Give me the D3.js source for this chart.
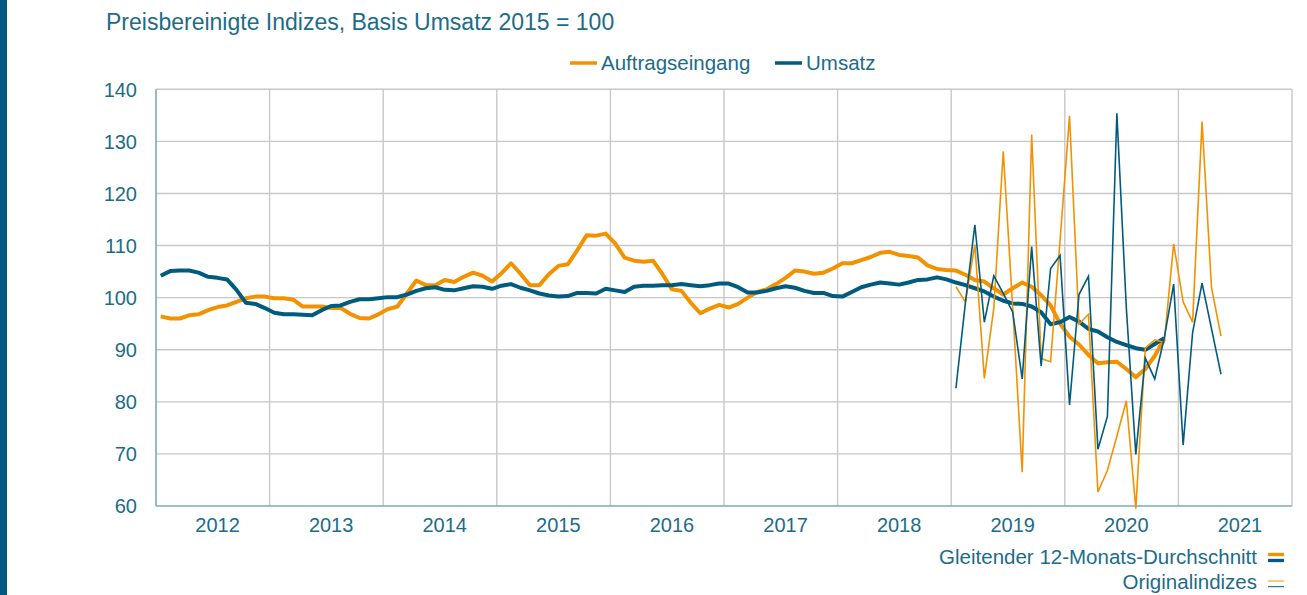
<!DOCTYPE html>
<html>
<head>
<meta charset="utf-8">
<script src="https://cdn.jsdelivr.net/npm/d3@7"></script>
<style>
  body { margin: 0; background: #fff; }
  text { font-family: "Liberation Sans", Arial, sans-serif; fill: #1c6c88; }
</style>
</head>
<body>
<svg id="chart" width="1307" height="595"></svg>
<script>
// x categories: one per month, Jan 2012 .. Dec 2021
const years = [2012, 2013, 2014, 2015, 2016, 2017, 2018, 2019, 2020, 2021];
const yTicks = [60, 70, 80, 90, 100, 110, 120, 130, 140];

// gleitender 12-Monats-Durchschnitt, ab Jan 2012
const auftragMA = [
  96.4, 96.0, 96.0, 96.6, 96.8, 97.6, 98.2, 98.5, 99.2, 99.9, 100.2, 100.2,
  99.9, 99.9, 99.6, 98.3, 98.3, 98.3, 98.0, 98.0, 96.9, 96.1, 96.0, 96.8,
  97.8, 98.3, 100.8, 103.3, 102.4, 102.4, 103.4, 103.0, 104.0, 104.8, 104.2, 103.1,
  104.7, 106.6, 104.6, 102.4, 102.4, 104.5, 106.1, 106.4, 109.1, 112.0, 111.9, 112.3,
  110.4, 107.7, 107.1, 106.9, 107.1, 104.5, 101.6, 101.3, 99.0, 97.0, 97.9, 98.6,
  98.1, 98.8, 100.0, 101.1, 101.6, 102.6, 103.8, 105.2, 105.0, 104.6, 104.8, 105.6,
  106.6, 106.6, 107.2, 107.8, 108.6, 108.8, 108.2, 108.0, 107.7, 106.2, 105.5, 105.3,
  105.2, 104.4, 103.4, 103.1, 101.8, 100.6, 101.8, 102.9, 102.1, 100.5, 98.5, 95.0,
  92.5, 91.0, 89.0, 87.4, 87.6, 87.7, 86.3, 84.7, 86.3, 88.8, 92.1
];
const umsatzMA = [
  104.2, 105.1, 105.2, 105.2, 104.8, 104.0, 103.8, 103.5, 101.5, 99.0, 98.8, 98.0,
  97.1, 96.8, 96.8, 96.7, 96.6, 97.6, 98.4, 98.5, 99.2, 99.7, 99.7, 99.9,
  100.1, 100.1, 100.6, 101.3, 101.8, 102.0, 101.5, 101.4, 101.8, 102.2, 102.1, 101.7,
  102.3, 102.6, 101.9, 101.4, 100.8, 100.4, 100.2, 100.3, 100.9, 100.9, 100.8, 101.7,
  101.4, 101.1, 102.1, 102.3, 102.3, 102.4, 102.4, 102.6, 102.4, 102.2, 102.4, 102.7,
  102.7, 102.0, 101.0, 101.0, 101.3, 101.8, 102.2, 101.9, 101.3, 100.9, 100.9, 100.3,
  100.2, 101.1, 102.0, 102.5, 102.9, 102.7, 102.5, 102.9, 103.4, 103.5, 103.9, 103.5,
  102.9, 102.4, 101.8, 101.2, 100.2, 99.4, 98.9, 98.8, 98.3, 97.2, 94.9, 95.3,
  96.3, 95.4, 94.0, 93.5, 92.4, 91.5, 90.9, 90.3, 90.0, 91.1, 92.2
];

// Originalindizes, ab Jan 2019
const origStart = '2019-01';
const auftragOrig = [
  102.1, 99.2, 110.2, 84.5, 98.0, 128.1, 98.0, 66.5, 131.3, 88.3, 87.7, 111.0,
  134.9, 94.9, 96.8, 62.7, 66.8, 73.4, 80.2, 59.5, 90.3, 91.9, 91.4, 110.3,
  99.2, 95.3, 133.8, 101.9, 92.6
];
const umsatzOrig = [
  82.6, 99.0, 114.0, 95.3, 104.2, 100.8, 97.2, 84.4, 109.8, 86.9, 105.6, 108.1,
  79.4, 100.6, 104.1, 70.9, 77.2, 135.4, 98.0, 69.9, 88.4, 84.4, 92.2, 102.6,
  71.7, 93.3, 102.8, 94.0, 85.3
];

(function() {
const svg = d3.select('svg#chart');
const orange = '#f39200';
const blue = '#005b7f';
const grid = '#c8c8c8';
const axisCol = '#7aaabb';

const months = [];
years.forEach(y => d3.range(1, 13).forEach(m => months.push(y + '-' + String(m).padStart(2, '0'))));

const x = d3.scaleBand().domain(months).range([156, 1292]).padding(0);
const y = d3.scaleLinear().domain([60, 140]).range([506, 89.3]);
const cx = m => x(m) + x.bandwidth() / 2;

// dark side bar
svg.append('rect')
  .attr('x', 0).attr('y', 0)
  .attr('width', 7).attr('height', 595)
  .attr('fill', '#005a80');

svg.append('text')
  .attr('x', 106).attr('y', 30)
  .style('font-size', '23px')
  .text('Preisbereinigte Indizes, Basis Umsatz 2015 = 100');

// horizontal gridlines
svg.append('g').selectAll('line')
  .data(yTicks.filter(d => d > 60))
  .join('line')
  .attr('x1', 156).attr('x2', 1292)
  .attr('y1', d => y(d)).attr('y2', d => y(d))
  .attr('stroke', grid).attr('stroke-width', 1.4);

// vertical gridlines at year boundaries
svg.append('g').selectAll('line')
  .data(years.slice(1).map(d => d + '-01').concat(['end']))
  .join('line')
  .attr('x1', d => d === 'end' ? 1292 : x(d))
  .attr('x2', d => d === 'end' ? 1292 : x(d))
  .attr('y1', y(140)).attr('y2', y(60))
  .attr('stroke', grid).attr('stroke-width', 1.4);

// axes lines
svg.append('line')
  .attr('x1', 156).attr('x2', 156)
  .attr('y1', y(140)).attr('y2', y(60))
  .attr('stroke', axisCol).attr('stroke-width', 1.6);
svg.append('line')
  .attr('x1', 156).attr('x2', 1292)
  .attr('y1', y(60)).attr('y2', y(60))
  .attr('stroke', axisCol).attr('stroke-width', 1.6);

// y tick labels
svg.append('g').selectAll('text')
  .data(yTicks)
  .join('text')
  .attr('x', 137).attr('y', d => y(d))
  .attr('dy', '0.36em')
  .attr('text-anchor', 'end')
  .style('font-size', '20px')
  .text(d => d);

// year labels
svg.append('g').selectAll('text')
  .data(years)
  .join('text')
  .attr('x', d => cx(d + '-07'))
  .attr('y', 532)
  .attr('text-anchor', 'middle')
  .style('font-size', '20px')
  .text(d => d);

const line = d3.line().x(d => cx(d[0])).y(d => y(d[1]));
const si = months.indexOf(origStart);

function series(values, start) {
  return values.map((v, i) => [months[start + i], v]);
}

// moving averages (thick)
svg.append('path')
  .attr('d', line(series(auftragMA, 0)))
  .attr('fill', 'none').attr('stroke', orange)
  .attr('stroke-width', 4).attr('stroke-linejoin', 'round');
svg.append('path')
  .attr('d', line(series(umsatzMA, 0)))
  .attr('fill', 'none').attr('stroke', blue)
  .attr('stroke-width', 4).attr('stroke-linejoin', 'round');

// original indices (thin)
svg.append('path')
  .attr('d', line(series(auftragOrig, si)))
  .attr('fill', 'none').attr('stroke', orange)
  .attr('stroke-width', 1.6);
svg.append('path')
  .attr('d', line(series(umsatzOrig, si)))
  .attr('fill', 'none').attr('stroke', blue)
  .attr('stroke-width', 1.6);

// top legend
const legend = [
  { name: 'Auftragseingang', color: orange, x: 570 },
  { name: 'Umsatz', color: blue, x: 775 }
];
legend.forEach(l => {
  svg.append('line')
    .attr('x1', l.x).attr('x2', l.x + 27)
    .attr('y1', 63).attr('y2', 63)
    .attr('stroke', l.color).attr('stroke-width', 3.5);
  svg.append('text')
    .attr('x', l.x + 31).attr('y', 70)
    .style('font-size', '20.5px')
    .text(l.name);
});

// bottom legend
svg.append('text')
  .attr('x', 1257).attr('y', 564)
  .attr('text-anchor', 'end')
  .style('font-size', '20.5px')
  .text('Gleitender 12-Monats-Durchschnitt');
svg.append('line').attr('x1', 1268).attr('x2', 1284).attr('y1', 554.5).attr('y2', 554.5)
  .attr('stroke', orange).attr('stroke-width', 3.3);
svg.append('line').attr('x1', 1268).attr('x2', 1284).attr('y1', 560.5).attr('y2', 560.5)
  .attr('stroke', blue).attr('stroke-width', 3.3);

svg.append('text')
  .attr('x', 1257).attr('y', 589)
  .attr('text-anchor', 'end')
  .style('font-size', '20.5px')
  .text('Originalindizes');
svg.append('line').attr('x1', 1268).attr('x2', 1284).attr('y1', 581).attr('y2', 581)
  .attr('stroke', orange).attr('stroke-width', 1);
svg.append('line').attr('x1', 1268).attr('x2', 1284).attr('y1', 586.7).attr('y2', 586.7)
  .attr('stroke', blue).attr('stroke-width', 1);
})();
</script>
</body>
</html>
